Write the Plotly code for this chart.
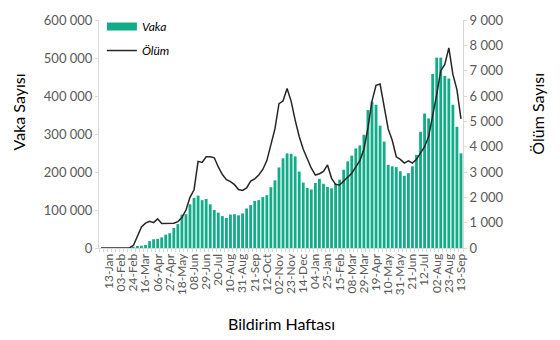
import pandas as pd
import plotly.graph_objects as go

# Weekly categories (Monday of each notification week)
weeks = pd.date_range("2019-12-30", periods=90, freq="7D")

tick_labels = ["13-Jan", "03-Feb", "24-Feb", "16-Mar", "06-Apr", "27-Apr", "18-May",
               "08-Jun", "29-Jun", "20-Jul", "10-Aug", "31-Aug", "21-Sep", "12-Oct",
               "02-Nov", "23-Nov", "14-Dec", "04-Jan", "25-Jan", "15-Feb", "08-Mar",
               "29-Mar", "19-Apr", "10-May", "31-May", "21-Jun", "12-Jul", "02-Aug",
               "23-Aug", "13-Sep"]

vaka = [0, 0, 0, 0, 0, 0, 0, 0, 500,
        4000, 6000, 8000, 18000, 23000, 24000, 28000, 35000, 39000, 53000,
        63000, 88000, 89000, 115000, 132000, 138000, 126000, 129000, 115000, 100000,
        93000, 84000, 79000, 88000, 89000, 86000, 91000, 104000, 113000, 124000,
        126000, 134000, 139000, 160000, 178000, 212000, 236000, 249000, 248000, 241000,
        201000, 172000, 158000, 154000, 171000, 182000, 169000, 161000, 157000, 170000,
        180000, 206000, 228000, 243000, 262000, 270000, 298000, 363000, 385000, 377000,
        322000, 280000, 219000, 215000, 213000, 202000, 190000, 197000, 215000, 245000,
        306000, 354000, 341000, 458000, 501000, 501000, 453000, 446000, 377000, 319000,
        249000]

olum = [0, 0, 0, 0, 0, 0, 0, 0, 100,
        450, 830, 980, 1050, 1000, 1150, 970, 970, 975, 975,
        1040, 1200, 1500, 2000, 2300, 3420, 3380, 3600, 3600, 3560,
        3200, 2900, 2700, 2620, 2500, 2310, 2270, 2370, 2640, 2730,
        2880, 3100, 3450, 4050, 4700, 5700, 5800, 6300, 5800, 5050,
        4400, 3900, 3550, 3150, 2880, 2930, 3025, 3280, 2750, 2510,
        2490, 2640, 2820, 2950, 3200, 3450, 3900, 4750, 5800, 6420,
        6470, 5550, 4700, 4250, 3600, 3500, 3350, 3440, 3350, 3500,
        3750, 4000, 4400, 5200, 6050, 7000, 7250, 7900, 6850, 6250,
        5100]

assert len(vaka) == len(weeks) == len(olum)

GREEN = "#13ac88"
LINE = "#262626"
AXIS = "#d9d9d9"
TXT = "#595959"
FONT = "Lato, Carlito, Calibri, sans-serif"

half = pd.Timedelta(days=3.5)
tickvals = [d.strftime("%Y-%m-%d") for d in weeks[2::3]]
assert len(tickvals) == len(tick_labels)

fig = go.Figure()
fig.add_trace(go.Bar(x=weeks, y=vaka, name="Vaka", marker=dict(color=GREEN, line=dict(width=0)),
                     legendgroup="v", showlegend=False, yaxis="y"))
# legend swatch for bars (wide rectangle like the original)
fig.add_trace(go.Scatter(x=[None], y=[None], mode="lines", name="Vaka",
                         line=dict(color=GREEN, width=8), legendgroup="v", showlegend=True))
fig.add_trace(go.Scatter(x=weeks, y=olum, name="Ölüm", mode="lines",
                         line=dict(color=LINE, width=1.5), legendgroup="o", yaxis="y2"))

fig.update_layout(
    width=560, height=340,
    margin=dict(l=99, r=97, t=17, b=92),
    paper_bgcolor="white", plot_bgcolor="white",
    separators=". ",
    bargap=0.3,
    font=dict(family=FONT, color=TXT),
    showlegend=True,
    legend=dict(x=0.008, y=1.035, xanchor="left", yanchor="top",
                bgcolor="rgba(0,0,0,0)", tracegroupgap=5,
                font=dict(family=FONT, size=12, color="#000000", style="italic")),
    xaxis=dict(
        type="date",
        range=[(weeks[0] - half).strftime("%Y-%m-%d %H:%M"), (weeks[-1] + half).strftime("%Y-%m-%d %H:%M")],
        tickmode="array", tickvals=tickvals, ticktext=tick_labels,
        tickangle=-90, tickfont=dict(family=FONT, size=12, color=TXT),
        ticks="", showgrid=False, zeroline=False,
        showline=True, linecolor=AXIS, linewidth=1,
        minor=dict(ticks="outside", ticklen=3, tickcolor=AXIS, tickwidth=1,
                   dtick=7 * 86400000, tick0=(weeks[0] - half).strftime("%Y-%m-%d %H:%M"),
                   showgrid=False),
    ),
    yaxis=dict(
        range=[0, 600000], dtick=100000, tick0=0, tickformat=",d",
        tickfont=dict(family=FONT, size=13, color=TXT),
        showgrid=False, zeroline=False,
        showline=True, linecolor=AXIS, linewidth=1,
        ticks="outside", ticklen=3, tickcolor=AXIS,
    ),
    yaxis2=dict(
        range=[0, 9000], dtick=1000, tick0=0, tickformat=",d",
        overlaying="y", side="right",
        tickfont=dict(family=FONT, size=13, color=TXT),
        showgrid=False, zeroline=False,
        showline=True, linecolor=AXIS, linewidth=1,
        ticks="outside", ticklen=3, tickcolor=AXIS,
    ),
    annotations=[
        dict(text="Vaka Sayısı", xref="paper", yref="paper", x=-0.221, y=0.597,
             textangle=-90, showarrow=False, xanchor="center", yanchor="middle",
             font=dict(family=FONT, size=16, color="#000000")),
        dict(text="Ölüm Sayısı", xref="paper", yref="paper", x=1.206, y=0.589,
             textangle=-90, showarrow=False, xanchor="center", yanchor="middle",
             font=dict(family=FONT, size=16, color="#000000")),
        dict(text="Bildirim Haftası", xref="paper", yref="paper", x=0.5, y=-0.333,
             showarrow=False, xanchor="center", yanchor="middle",
             font=dict(family=FONT, size=16, color="#000000")),
    ],
)

fig.write_html("out.html")
